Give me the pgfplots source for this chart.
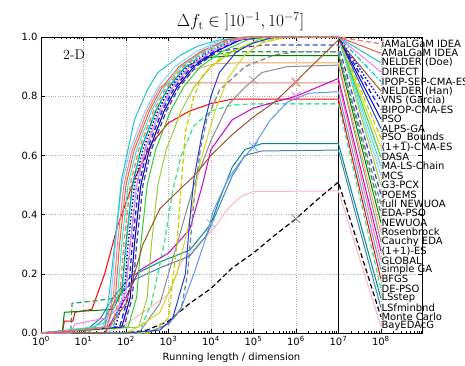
\documentclass[border=0pt]{standalone}
\usepackage{pgfplots}
\pgfplotsset{compat=1.18}
\usepackage[no-math]{fontspec}
\newfontfamily\dejavu{DejaVu Sans}
\definecolor{c1}{HTML}{F4826A}
\definecolor{c2}{HTML}{E8603F}
\definecolor{c3}{HTML}{22C3C8}
\definecolor{c4}{HTML}{EE82EE}
\definecolor{c5}{HTML}{00CED1}
\definecolor{c6}{HTML}{A0522D}
\definecolor{c7}{HTML}{0000FF}
\definecolor{c8}{HTML}{2020E0}
\definecolor{c9}{HTML}{0000CD}
\definecolor{c10}{HTML}{1F3FD0}
\definecolor{c11}{HTML}{CCCC00}
\definecolor{c12}{HTML}{D4D42A}
\definecolor{c13}{HTML}{32CD32}
\definecolor{c14}{HTML}{40E0D0}
\definecolor{c15}{HTML}{87CEFA}
\definecolor{c16}{HTML}{9ACD32}
\definecolor{c17}{HTML}{4444AA}
\definecolor{c18}{HTML}{778899}
\definecolor{c19}{HTML}{2E9B4F}
\definecolor{c20}{HTML}{008000}
\definecolor{c21}{HTML}{F4A460}
\definecolor{c22}{HTML}{8C8C8C}
\definecolor{c23}{HTML}{CC00CC}
\definecolor{c24}{HTML}{F08080}
\definecolor{c25}{HTML}{6495ED}
\definecolor{c26}{HTML}{FF0000}
\definecolor{c27}{HTML}{3CE88C}
\definecolor{c28}{HTML}{008B8B}
\definecolor{c29}{HTML}{4682B4}
\definecolor{c31}{HTML}{FFB6C1}
\begin{document}
\begin{tikzpicture}
\path (-41pt,-31pt) rectangle (424pt,333pt);
\begin{axis}[
  at={(0pt,0pt)}, anchor=south west,
  scale only axis, width=381pt, height=296pt,
  xmode=log, log basis x=10,
  xmin=1, xmax=9.3e8, ymin=0, ymax=1,
  clip=false,
  xtick={1,10,100,1000,1e4,1e5,1e6,1e7,1e8},
  xticklabels={10\textsuperscript{0},10\textsuperscript{1},10\textsuperscript{2},10\textsuperscript{3},10\textsuperscript{4},10\textsuperscript{5},10\textsuperscript{6},10\textsuperscript{7},10\textsuperscript{8}},
  minor xtick={2,3,4,5,6,7,8,9,20,30,40,50,60,70,80,90,200,300,400,500,600,700,800,900,2e3,3e3,4e3,5e3,6e3,7e3,8e3,9e3,2e4,3e4,4e4,5e4,6e4,7e4,8e4,9e4,2e5,3e5,4e5,5e5,6e5,7e5,8e5,9e5,2e6,3e6,4e6,5e6,6e6,7e6,8e6,9e6,2e7,3e7,4e7,5e7,6e7,7e7,8e7,9e7,2e8,3e8,4e8,5e8,6e8,7e8,8e8,9e8},
  ytick={0,0.2,0.4,0.6,0.8,1},
  yticklabels={0.0,0.2,0.4,0.6,0.8,1.0},
  tick align=inside,
  major tick length=4pt, minor tick length=2pt,
  tick style={black, line width=0.5pt},
  grid=major,
  grid style={dotted, gray!60, line width=0.6pt},
  axis line style={black, line width=0.8pt},
  tick label style={font=\dejavu\fontsize{10}{12}\selectfont},
  xlabel={Running length / dimension},
  xlabel style={font=\dejavu\fontsize{10}{12}\selectfont, at={(axis description cs:0.5,0)}, anchor=base, yshift=-27pt},
  every axis plot/.append style={line width=1pt},
]
\addplot[black, line width=0.9pt] coordinates {(1e7,0)(1e7,1)};
% BayEDAcG
\addplot[c31] coordinates {(1,0)(31.6,0)(100,0.03)(316,0.08)(1000,0.13)(1995,0.24)(5012,0.3)(11220,0.35)(25119,0.42)(50119,0.46)(1e5,0.478)(1e7,0.48)(1e8,0.023)};
% Monte Carlo
\addplot[black, dash pattern=on 5pt off 3pt, line width=1.2pt] coordinates {(1,0)(100,0)(316,0.01)(1000,0.04)(3162,0.1)(1e4,0.15)(31623,0.22)(1e5,0.27)(316228,0.33)(1e6,0.386)(3162278,0.45)(1e7,0.51)(1e8,0.055)};
% LSfminbnd
\addplot[c29] coordinates {(1,0)(12.6,0)(31.6,0.05)(63.1,0.12)(158,0.18)(631,0.22)(3162,0.26)(7943,0.33)(15849,0.43)(31623,0.53)(63096,0.6)(158489,0.615)(1e7,0.618)(1e8,0.086)};
% LSstep
\addplot[c28] coordinates {(1,0)(10,0)(25.1,0.05)(50.1,0.12)(126,0.19)(631,0.24)(3162,0.28)(7943,0.35)(1e4,0.37)(15849,0.45)(31623,0.56)(63096,0.62)(158489,0.64)(1e7,0.64)(1e8,0.118)};
% DE-PSO
\addplot[c27, dash pattern=on 5pt off 3pt, line width=1.3pt] coordinates {(1,0)(200,0)(398,0.1)(794,0.3)(1259,0.48)(1995,0.6)(3981,0.7)(1e4,0.75)(31623,0.77)(1e5,0.774)(1e7,0.774)(1e8,0.15)};
% BFGS
\addplot[c26] coordinates {(1,0)(3.16,0)(3.55,0.04)(5.62,0.04)(6.31,0.07)(15.8,0.08)(31.6,0.2)(63.1,0.36)(158,0.52)(398,0.64)(1000,0.71)(3162,0.75)(1e4,0.775)(31623,0.79)(1e7,0.79)(1e8,0.182)};
% simple GA
\addplot[c25] coordinates {(1,0)(316,0)(1000,0.03)(1995,0.085)(3981,0.2)(7943,0.33)(11220,0.41)(25119,0.52)(50119,0.58)(1e5,0.63)(251189,0.72)(630957,0.78)(1995262,0.81)(1e7,0.815)(1e8,0.214)};
% GLOBAL
\addplot[c24] coordinates {(1,0)(31.6,0.02)(50.1,0.12)(63.1,0.3)(89.1,0.5)(141,0.62)(316,0.75)(631,0.83)(1000,0.845)(1e7,0.845)(1e8,0.245)};
% (1+1)-ES
\addplot[c23] coordinates {(1,0)(31.6,0)(100,0.12)(200,0.21)(1000,0.27)(3162,0.35)(6310,0.5)(1e4,0.62)(31623,0.72)(1e5,0.76)(1e6,0.8)(1e7,0.86)(1e8,0.277)};
% Cauchy EDA
\addplot[c22] coordinates {(1,0)(200,0)(631,0.1)(1585,0.3)(3981,0.5)(1e4,0.65)(25119,0.77)(63096,0.83)(1e5,0.855)(158489,0.88)(630957,0.9)(1e7,0.905)(1e8,0.309)};
% Rosenbrock
\addplot[c21] coordinates {(1,0)(79.4,0.02)(126,0.12)(158,0.3)(224,0.5)(355,0.62)(794,0.75)(1585,0.83)(3981,0.89)(12589,0.91)(50119,0.913)(1e7,0.913)(1e8,0.341)};
% NEWUOA
\addplot[c20] coordinates {(1,0)(3.16,0)(3.55,0.07)(50.1,0.08)(79.4,0.14)(100,0.3)(141,0.5)(224,0.62)(501,0.75)(1000,0.83)(2512,0.9)(7943,0.93)(31623,0.937)(1e7,0.937)(1e8,0.373)};
% EDA-PSO
\addplot[c19, dash pattern=on 5pt off 3pt, line width=1.3pt] coordinates {(1,0)(5.01,0)(5.37,0.1)(22.4,0.11)(63.1,0.12)(100,0.16)(126,0.3)(178,0.5)(282,0.62)(631,0.75)(1259,0.83)(3162,0.9)(1e4,0.94)(39811,0.95)(1e7,0.95)(1e8,0.405)};
% full NEWUOA
\addplot[c18, dash pattern=on 5pt off 3pt, line width=1.3pt] coordinates {(1,0)(316,0)(1000,0.03)(1995,0.08)(2818,0.2)(3981,0.45)(5623,0.62)(7943,0.72)(15849,0.82)(63096,0.9)(316228,0.94)(1e6,0.95)(1e7,0.95)(1e8,0.436)};
% POEMS
\addplot[c17, dash pattern=on 5pt off 3pt, line width=1.3pt] coordinates {(1,0)(89.1,0.02)(141,0.12)(178,0.3)(251,0.5)(398,0.62)(891,0.75)(1778,0.83)(4467,0.9)(14125,0.95)(56234,0.965)(177828,0.973)(1e7,0.973)(1e8,0.468)};
% G3-PCX
\addplot[c16] coordinates {(1,0)(200,0.02)(316,0.12)(398,0.3)(562,0.5)(891,0.62)(1995,0.75)(3981,0.83)(1e4,0.9)(31623,0.95)(125893,0.99)(398107,1)(1e7,1)(1e8,0.5)};
% MCS
\addplot[c15] coordinates {(1,0)(28.2,0.02)(44.7,0.12)(56.2,0.3)(79.4,0.5)(126,0.62)(282,0.75)(562,0.83)(1413,0.9)(4467,0.95)(17783,0.99)(56234,1)(1e7,1)(1e8,0.532)};
% MA-LS-Chain
\addplot[c14] coordinates {(1,0)(15.8,0.02)(39.8,0.04)(63.1,0.12)(79.4,0.3)(112,0.5)(178,0.62)(398,0.75)(794,0.83)(1995,0.9)(6310,0.95)(25119,0.99)(79433,1)(1e7,1)(1e8,0.564)};
% DASA
\addplot[c13] coordinates {(1,0)(112,0.02)(178,0.12)(224,0.3)(316,0.5)(501,0.62)(1122,0.75)(2239,0.83)(5623,0.9)(17783,0.95)(70795,0.99)(223872,1)(1e7,1)(1e8,0.595)};
% (1+1)-CMA-ES
\addplot[c12] coordinates {(1,0)(100,0)(251,0.03)(631,0.07)(1585,0.2)(3162,0.38)(5623,0.58)(12589,0.75)(25119,0.86)(63096,0.94)(158489,0.98)(630957,1)(1e7,1)(1e8,0.627)};
% PSO_Bounds
\addplot[c11, dash pattern=on 5pt off 3pt, line width=1.3pt] coordinates {(1,0)(398,0)(1000,0.05)(1585,0.3)(1995,0.5)(2512,0.68)(3981,0.8)(6310,0.87)(19953,0.94)(1e5,0.98)(630957,1)(1e7,1)(1e8,0.659)};
% ALPS-GA
\addplot[c10] coordinates {(1,0)(100,0)(631,0.01)(1259,0.05)(2512,0.2)(3162,0.38)(3981,0.52)(6310,0.68)(1e4,0.8)(15849,0.88)(39811,0.95)(1e5,0.98)(316228,1)(1e7,1)(1e8,0.691)};
% PSO
\addplot[c9] coordinates {(1,0)(79.4,0.02)(126,0.12)(158,0.3)(224,0.5)(355,0.62)(794,0.75)(1585,0.83)(3981,0.9)(12589,0.95)(50119,0.99)(158489,1)(1e7,1)(1e8,0.723)};
% BIPOP-CMA-ES
\addplot[c8, dash pattern=on 5pt off 3pt, line width=1.3pt] coordinates {(1,0)(70.8,0.02)(112,0.12)(141,0.3)(200,0.5)(316,0.62)(708,0.75)(1413,0.83)(3548,0.9)(11220,0.95)(44668,0.99)(141254,1)(1e7,1)(1e8,0.754)};
% VNS (Garcia)
\addplot[c7, dash pattern=on 1.5pt off 2pt, line width=1.4pt] coordinates {(1,0)(56.2,0.02)(89.1,0.12)(112,0.3)(158,0.5)(251,0.62)(562,0.75)(1122,0.83)(2818,0.9)(8913,0.95)(35481,0.99)(112202,1)(1e7,1)(1e8,0.786)};
% NELDER (Han)
\addplot[c6] coordinates {(1,0)(31.6,0)(100,0.1)(251,0.3)(631,0.42)(1995,0.49)(3981,0.53)(1e4,0.6)(31623,0.67)(1e5,0.73)(316228,0.78)(1e6,0.85)(3162278,0.92)(1e7,0.99)(1e8,0.818)};
% IPOP-SEP-CMA-ES
\addplot[c5, dash pattern=on 5pt off 2pt on 1.5pt off 2pt, line width=1.3pt] coordinates {(1,0)(50.1,0.02)(79.4,0.12)(100,0.3)(141,0.5)(224,0.62)(501,0.75)(1000,0.83)(2512,0.9)(7943,0.95)(31623,0.99)(1e5,1)(1e7,1)(1e8,0.85)};
% DIRECT
\addplot[c4] coordinates {(1,0)(5.01,0)(6.31,0.03)(31.6,0.05)(63.1,0.08)(100,0.14)(126,0.3)(178,0.5)(282,0.62)(631,0.75)(1259,0.83)(3162,0.9)(1e4,0.95)(39811,0.99)(125893,1)(1e7,1)(1e8,0.882)};
% NELDER (Doe)
\addplot[c3] coordinates {(1,0)(31.6,0.02)(41.7,0.15)(79.4,0.52)(158,0.72)(316,0.82)(562,0.88)(1995,0.94)(5012,0.97)(15849,0.99)(1e5,1)(1e7,1)(1e8,0.913)};
% AMaLGaM IDEA
\addplot[c2] coordinates {(1,0)(10,0.01)(35.5,0.02)(56.2,0.12)(70.8,0.3)(100,0.5)(158,0.62)(355,0.75)(708,0.83)(1778,0.9)(5623,0.95)(22387,0.99)(70795,1)(1e7,1)(1e8,0.945)};
% iAMaLGaM IDEA
\addplot[c1, dash pattern=on 5pt off 3pt, line width=1.3pt] coordinates {(1,0)(44.7,0.02)(70.8,0.12)(89.1,0.3)(126,0.5)(200,0.62)(447,0.75)(891,0.83)(2239,0.9)(7079,0.95)(28184,0.99)(89125,1)(1e7,1)(1e8,0.977)};
% crosses
\addplot[only marks, mark=x, mark size=6pt, mark options={solid, line width=0.7pt}, color=c15!80!white] coordinates {(1e4,0.97)(15849,0.99)};
\addplot[only marks, mark=x, mark size=6pt, mark options={solid, line width=0.7pt}, color=c24] coordinates {(1e6,0.845)};
\addplot[only marks, mark=x, mark size=6pt, mark options={solid, line width=0.7pt}, color=c23!60!white] coordinates {(1e6,0.8)};
\addplot[only marks, mark=x, mark size=6pt, mark options={solid, line width=0.7pt}, color=c6!60!white] coordinates {(1e6,0.85)};
\addplot[only marks, mark=x, mark size=6pt, mark options={solid, line width=0.7pt}, color=c22!80!white] coordinates {(1e5,0.855)};
\addplot[only marks, mark=x, mark size=6pt, mark options={solid, line width=0.7pt}, color=c25] coordinates {(1e5,0.63)};
\addplot[only marks, mark=x, mark size=6pt, mark options={solid, line width=0.7pt}, color=c29!60!white] coordinates {(1e4,0.37)};
\addplot[only marks, mark=x, mark size=6pt, mark options={solid, line width=0.7pt}, color=gray] coordinates {(1e6,0.386)};
\begin{scope}[every node/.style={overlay, anchor=west, inner sep=0.5pt, font=\dejavu\fontsize{10}{12}\selectfont}]
\node at (axis cs:1e8,0.977) {iAMaLGaM IDEA};
\node at (axis cs:1e8,0.945) {AMaLGaM IDEA};
\node at (axis cs:1e8,0.913) {NELDER (Doe)};
\node at (axis cs:1e8,0.882) {DIRECT};
\node at (axis cs:1e8,0.850) {IPOP-SEP-CMA-ES};
\node at (axis cs:1e8,0.818) {NELDER (Han)};
\node at (axis cs:1e8,0.786) {VNS (Garcia)};
\node at (axis cs:1e8,0.754) {BIPOP-CMA-ES};
\node at (axis cs:1e8,0.723) {PSO};
\node at (axis cs:1e8,0.691) {ALPS-GA};
\node at (axis cs:1e8,0.659) {PSO\_Bounds};
\node at (axis cs:1e8,0.627) {(1+1)-CMA-ES};
\node at (axis cs:1e8,0.595) {DASA};
\node at (axis cs:1e8,0.564) {MA-LS-Chain};
\node at (axis cs:1e8,0.532) {MCS};
\node at (axis cs:1e8,0.500) {G3-PCX};
\node at (axis cs:1e8,0.468) {POEMS};
\node at (axis cs:1e8,0.436) {full NEWUOA};
\node at (axis cs:1e8,0.405) {EDA-PSO};
\node at (axis cs:1e8,0.373) {NEWUOA};
\node at (axis cs:1e8,0.341) {Rosenbrock};
\node at (axis cs:1e8,0.309) {Cauchy EDA};
\node at (axis cs:1e8,0.277) {(1+1)-ES};
\node at (axis cs:1e8,0.245) {GLOBAL};
\node at (axis cs:1e8,0.214) {simple GA};
\node at (axis cs:1e8,0.182) {BFGS};
\node at (axis cs:1e8,0.150) {DE-PSO};
\node at (axis cs:1e8,0.118) {LSstep};
\node at (axis cs:1e8,0.086) {LSfminbnd};
\node at (axis cs:1e8,0.055) {Monte Carlo};
\node at (axis cs:1e8,0.023) {BayEDAcG};
\end{scope}
\node[font=\fontsize{14}{16}\selectfont] at (rel axis cs:0.087,0.939) {2-D};
\end{axis}
\node[anchor=base, font=\fontsize{18}{20}\selectfont] at (199.5pt,306pt) {$\Delta f_\mathrm{t} \in \mathopen{]}10^{-1}, 10^{-7}]$};
\end{tikzpicture}
\end{document}
